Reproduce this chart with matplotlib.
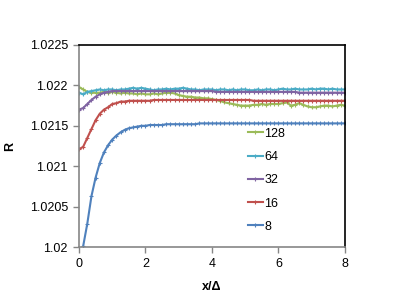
import numpy as np
import matplotlib
matplotlib.use("Agg")
from matplotlib import pyplot as plt

plt.rcParams['font.family'] = ['Liberation Sans', 'DejaVu Sans']

# sample positions x/Delta, step 1/8
x = np.arange(65) * 0.125

r8 = [1.01970, 1.02001, 1.02029, 1.02063, 1.02086, 1.02104, 1.02117, 1.02126,
      1.02133, 1.02138, 1.02142, 1.02145, 1.02147, 1.02148, 1.02149, 1.02150,
      1.02150, 1.02151, 1.02151, 1.02151, 1.02151, 1.02152, 1.02152, 1.02152,
      1.02152, 1.02152, 1.02152, 1.02152, 1.02152, 1.02153, 1.02153, 1.02153,
      1.02153, 1.02153, 1.02153, 1.02153, 1.02153, 1.02153, 1.02153, 1.02153,
      1.02153, 1.02153, 1.02153, 1.02153, 1.02153, 1.02153, 1.02153, 1.02153,
      1.02153, 1.02153, 1.02153, 1.02153, 1.02153, 1.02153, 1.02153, 1.02153,
      1.02153, 1.02153, 1.02153, 1.02153, 1.02153, 1.02153, 1.02153, 1.02153,
      1.02153]

r16 = [1.02121, 1.02124, 1.02135, 1.02146, 1.02157, 1.02165, 1.02170, 1.02173,
       1.02177, 1.02178, 1.02180, 1.02180, 1.02181, 1.02181, 1.02181, 1.02181,
       1.02181, 1.02181, 1.02182, 1.02182, 1.02182, 1.02182, 1.02182, 1.02182,
       1.02182, 1.02182, 1.02182, 1.02182, 1.02182, 1.02182, 1.02182, 1.02182,
       1.02182, 1.02182, 1.02182, 1.02182, 1.02182, 1.02182, 1.02182, 1.02182,
       1.02182, 1.02182, 1.02181, 1.02181, 1.02181, 1.02181, 1.02181, 1.02181,
       1.02181, 1.02181, 1.02181, 1.02181, 1.02181, 1.02181, 1.02181, 1.02181,
       1.02181, 1.02181, 1.02181, 1.02181, 1.02181, 1.02181, 1.02181, 1.02181,
       1.02181]

r32 = [1.02170, 1.02172, 1.02177, 1.02182, 1.02186, 1.02189, 1.02191, 1.02192,
       1.02193, 1.02193, 1.02193, 1.02193, 1.02193, 1.02193, 1.02193, 1.02193,
       1.02193, 1.02193, 1.02193, 1.02193, 1.02193, 1.02193, 1.02193, 1.02193,
       1.02193, 1.02193, 1.02193, 1.02193, 1.02193, 1.02193, 1.02193, 1.02193,
       1.02193, 1.02192, 1.02192, 1.02192, 1.02192, 1.02192, 1.02192, 1.02192,
       1.02192, 1.02192, 1.02192, 1.02192, 1.02192, 1.02192, 1.02192, 1.02192,
       1.02192, 1.02192, 1.02192, 1.02192, 1.02192, 1.02191, 1.02191, 1.02191,
       1.02191, 1.02191, 1.02191, 1.02191, 1.02191, 1.02191, 1.02191, 1.02191,
       1.02191]

r64 = [1.02191, 1.02189, 1.02192, 1.02193, 1.02194, 1.02195, 1.02194, 1.02195,
       1.02195, 1.02194, 1.02195, 1.02195, 1.02196, 1.02197, 1.02196, 1.02197,
       1.02196, 1.02195, 1.02194, 1.02195, 1.02195, 1.02196, 1.02195, 1.02196,
       1.02196, 1.02197, 1.02196, 1.02195, 1.02195, 1.02194, 1.02195, 1.02195,
       1.02195, 1.02194, 1.02195, 1.02195, 1.02194, 1.02195, 1.02194, 1.02195,
       1.02195, 1.02194, 1.02194, 1.02195, 1.02194, 1.02195, 1.02195, 1.02194,
       1.02195, 1.02196, 1.02195, 1.02195, 1.02196, 1.02195, 1.02195, 1.02195,
       1.02196, 1.02195, 1.02196, 1.02196, 1.02195, 1.02196, 1.02195, 1.02195,
       1.02195]

r128 = [1.02198, 1.02195, 1.02192, 1.02191, 1.02191, 1.02191, 1.02192, 1.02191,
        1.02192, 1.02191, 1.02190, 1.02191, 1.02190, 1.02190, 1.02189, 1.02190,
        1.02189, 1.02189, 1.02190, 1.02189, 1.02190, 1.02191, 1.02191, 1.02190,
        1.02188, 1.02187, 1.02186, 1.02186, 1.02185, 1.02185, 1.02184, 1.02184,
        1.02183, 1.02182, 1.02181, 1.02179, 1.02178, 1.02177, 1.02176, 1.02175,
        1.02175, 1.02175, 1.02176, 1.02176, 1.02177, 1.02176, 1.02177, 1.02177,
        1.02177, 1.02178, 1.02179, 1.02175, 1.02176, 1.02178, 1.02176, 1.02174,
        1.02173, 1.02173, 1.02174, 1.02175, 1.02175, 1.02174, 1.02175, 1.02176,
        1.02175]

series = [('128', r128, '#9BBB59'),
          ('64', r64, '#4BACC6'),
          ('32', r32, '#8064A2'),
          ('16', r16, '#C0504D'),
          ('8', r8, '#4F81BD')]

fig = plt.figure(figsize=(4.02, 3.02), dpi=100)
ax = fig.add_axes([0.1965, 0.182, 0.6615, 0.669])

for name, vals, col in series:
    ax.plot(x, vals, color=col, lw=1.5, marker='+', ms=3, mew=0.8, label=name)

ax.set_xlim(0, 8)
ax.set_ylim(1.02, 1.0225)
ax.set_xticks([0, 2, 4, 6, 8])
ax.set_yticks([1.02, 1.0205, 1.021, 1.0215, 1.022, 1.0225])
ax.set_yticklabels(['1.02', '1.0205', '1.021', '1.0215', '1.022', '1.0225'])

gray = '#868686'
for s in ['left', 'bottom']:
    ax.spines[s].set_color(gray)
    ax.spines[s].set_linewidth(1.2)
for s in ['top', 'right']:
    ax.spines[s].set_color('black')
    ax.spines[s].set_linewidth(1.2)
ax.tick_params(direction='out', length=4, width=1, color=gray,
               labelsize=9, pad=4)

ax.set_xlabel('x/Δ', fontsize=9, fontweight='bold', labelpad=8)
ax.set_ylabel('R', fontsize=9, fontweight='bold', labelpad=10)

ax.legend(loc='upper left', bbox_to_anchor=(0.635, 0.59), frameon=False,
          fontsize=9, handlelength=1.2, handletextpad=0.1, labelspacing=0.9,
          borderpad=0, borderaxespad=0)

fig.savefig('out.png', dpi=100)
